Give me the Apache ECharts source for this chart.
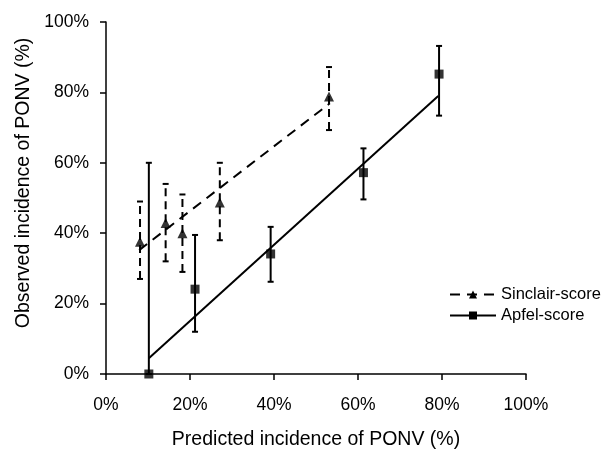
<!DOCTYPE html>
<html>
<head>
<meta charset="utf-8">
<script src="https://cdn.jsdelivr.net/npm/echarts@6/dist/echarts.min.js"></script>
<style>
  html, body { margin: 0; padding: 0; background: #fff; }
  #main { width: 607px; height: 450px; }
</style>
</head>
<body>
<div id="main"></div>
<script>
// Sinclair-score: predicted %, observed %, error bar low/high
var sinclairX = [8.1, 14.2, 18.2, 27.1, 53.1];
var sinclairY = [37.6, 42.9, 40.0, 48.7, 78.8];
var sinclairLo = [27, 32, 29, 38, 69.3];
var sinclairHi = [49, 54, 51, 60, 87.2];
var sinclairFit = [[7.9, 35.2], [53.3, 76.9]];

// Apfel-score
var apfelX = [10.2, 21.2, 39.2, 61.3, 79.3];
var apfelY = [0, 24.1, 34.1, 57.2, 85.2];
var apfelLo = [0, 12, 26.2, 49.6, 73.4];
var apfelHi = [60, 39.5, 41.8, 64.1, 93.2];
var apfelFit = [[10.2, 4.5], [79.1, 79.0]];

function errData(xs, lo, hi) {
    var out = [];
    for (var i = 0; i < xs.length; i++) out.push([xs[i], lo[i], hi[i]]);
    return out;
}
function pts(xs, ys) {
    var out = [];
    for (var i = 0; i < xs.length; i++) out.push([xs[i], ys[i]]);
    return out;
}
// vertical error bar with caps
function errRender(dashed) {
    return function (params, api) {
        var lo = api.coord([api.value(0), api.value(1)]);
        var hi = api.coord([api.value(0), api.value(2)]);
        var w = 3;
        var st = { stroke: '#000', lineWidth: 2 };
        if (dashed) st.lineDash = [8, 5];
        return {
            type: 'group',
            children: [
                { type: 'line', shape: { x1: lo[0], y1: lo[1], x2: hi[0], y2: hi[1] }, style: st },
                { type: 'line', shape: { x1: hi[0] - w, y1: hi[1], x2: hi[0] + w, y2: hi[1] }, style: { stroke: '#000', lineWidth: 2 } },
                { type: 'line', shape: { x1: lo[0] - w, y1: lo[1], x2: lo[0] + w, y2: lo[1] }, style: { stroke: '#000', lineWidth: 2 } }
            ]
        };
    };
}

var myChart = echarts.init(document.getElementById('main'));
var font = 'Liberation Sans, Arial, sans-serif';
option = {
    backgroundColor: '#fff',
    animation: false,
    textStyle: { fontFamily: font, color: '#000' },
    grid: { left: 106, right: 81, top: 22, bottom: 76, outerBoundsMode: 'none' },
    legend: {
        orient: 'vertical',
        left: 444,
        top: 281,
        itemWidth: 46,
        itemHeight: 10,
        itemGap: 4,
        textStyle: { fontSize: 16.5, color: '#000', fontFamily: font },
        data: ['Sinclair-score', 'Apfel-score']
    },
    xAxis: {
        type: 'value',
        min: 0, max: 100, interval: 20,
        name: 'Predicted incidence of PONV (%)',
        nameLocation: 'middle',
        nameGap: 56,
        nameTextStyle: { fontSize: 19.5, color: '#000' },
        axisLine: { lineStyle: { color: '#000', width: 1.5 } },
        axisTick: { lineStyle: { color: '#000', width: 1.5 }, length: 6 },
        axisLabel: { fontSize: 17.5, color: '#000', margin: 22, formatter: '{value}%' },
        splitLine: { show: false }
    },
    yAxis: {
        type: 'value',
        min: 0, max: 100, interval: 20,
        name: 'Observed incidence of PONV (%)',
        nameLocation: 'middle',
        nameGap: 72,
        nameTextStyle: { fontSize: 19.5, color: '#000', padding: [0, 0, 0, 30] },
        axisLine: { show: true, lineStyle: { color: '#000', width: 1.5 } },
        axisTick: { show: true, lineStyle: { color: '#000', width: 1.5 }, length: 6 },
        axisLabel: { fontSize: 17.5, color: '#000', margin: 17, formatter: '{value}%' },
        splitLine: { show: false }
    },
    series: [
        {
            name: 'Sinclair-score',
            type: 'line',
            data: sinclairFit,
            symbol: 'triangle',
            symbolSize: 10,
            showSymbol: false,
            itemStyle: { color: '#000' },
            lineStyle: { color: '#000', width: 2, type: [10, 7] },
            z: 2
        },
        {
            name: 'Apfel-score',
            type: 'line',
            data: apfelFit,
            symbol: 'rect',
            symbolSize: 9,
            showSymbol: false,
            itemStyle: { color: '#000' },
            lineStyle: { color: '#000', width: 2 },
            z: 2
        },
        {
            name: 'Sinclair-score',
            type: 'custom',
            renderItem: errRender(true),
            data: errData(sinclairX, sinclairLo, sinclairHi),
            encode: { x: 0, y: [1, 2] },
            z: 3
        },
        {
            name: 'Apfel-score',
            type: 'custom',
            renderItem: errRender(false),
            data: errData(apfelX, apfelLo, apfelHi),
            encode: { x: 0, y: [1, 2] },
            z: 3
        },
        {
            name: 'Sinclair-score',
            type: 'scatter',
            symbol: 'triangle',
            symbolSize: 10,
            itemStyle: { color: '#000' },
            data: pts(sinclairX, sinclairY),
            z: 4
        },
        {
            name: 'Apfel-score',
            type: 'scatter',
            symbol: 'rect',
            symbolSize: 9,
            itemStyle: { color: '#000' },
            data: pts(apfelX, apfelY),
            z: 4
        }
    ]
};
myChart.setOption(option);
</script>
</body>
</html>
